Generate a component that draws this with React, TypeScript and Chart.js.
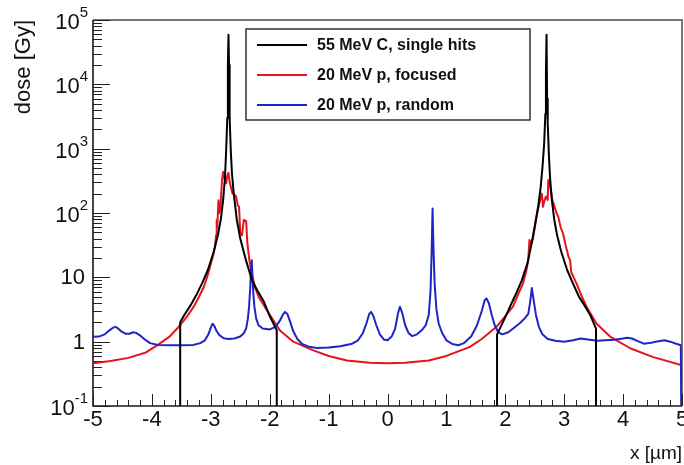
import React, { useEffect, useRef } from 'react';
import { Chart, registerables } from 'chart.js';

Chart.register(...registerables);

const X_MIN = -5;
const X_MAX = 5;
const Y_MIN = 0.1;
const Y_MAX = 100000;

const xTickValues = [-5, -4, -3, -2, -1, 0, 1, 2, 3, 4, 5];
const xTickLabels = ['-5', '-4', '-3', '-2', '-1', '0', '1', '2', '3', '4', '5'];
const yTickValues = [0.1, 1, 10, 100, 1000, 10000, 100000];
const yTickBase = ['10', '1', '10', '10', '10', '10', '10'];
const yTickExp = ['-1', '', '', '2', '3', '4', '5'];

const seriesLabels = ['55 MeV C, single hits', '20 MeV p, focused', '20 MeV p, random'];
const seriesColors = ['#000000', '#e3141b', '#1f24c4'];
const xTitle = 'x [\u00b5m]';
const yTitle = 'dose [Gy]';

// 55 MeV C, single hits (null = break between the two hit regions)
const carbonX = [
  -3.52, -3.52, -3.45, -3.35, -3.25, -3.15, -3.05, -2.95, -2.88, -2.83, -2.79, -2.76, -2.74, -2.72, -2.71, -2.70,
  -2.69, -2.68, -2.66, -2.64, -2.61, -2.56, -2.50, -2.40, -2.30, -2.20, -2.10, -2.00, -1.88, -1.88,
  0,
  1.86, 1.86, 1.98, 2.08, 2.18, 2.28, 2.38, 2.45, 2.51, 2.56, 2.60, 2.63, 2.66, 2.68, 2.69, 2.70,
  2.71, 2.72, 2.74, 2.76, 2.79, 2.83, 2.88, 2.95, 3.05, 3.15, 3.25, 3.35, 3.45, 3.54, 3.54,
];
const carbonY = [
  0.001, 2.0, 2.6, 3.6, 5.2, 8, 13, 25, 45, 80, 160, 350, 900, 3000, 20000, 59000,
  20000, 3000, 900, 400, 200, 80, 40, 18, 9, 6, 4.2, 2.5, 1.5, 0.001,
  null,
  0.001, 1.3, 2.2, 3.5, 5.5, 9, 17, 35, 70, 130, 250, 500, 1200, 3500, 15000, 59000,
  6000, 2500, 800, 350, 160, 80, 45, 25, 13, 8, 5, 3.6, 2.5, 1.6, 0.001,
];

// 20 MeV p, focused
const focusedX = [
  -5.0, -4.7, -4.4, -4.1, -3.9, -3.7, -3.52, -3.4, -3.29, -3.2, -3.12, -3.05, -3.01, -2.96, -2.93, -2.91,
  -2.90, -2.89, -2.87, -2.855, -2.84, -2.81, -2.79, -2.77, -2.74, -2.72, -2.70, -2.68, -2.66, -2.63, -2.59,
  -2.57, -2.54, -2.52, -2.50, -2.47, -2.44, -2.40, -2.38, -2.35, -2.31, -2.25, -2.18, -2.05, -1.9, -1.83,
  -1.6, -1.27, -1.0, -0.69, -0.3, 0.0, 0.3, 0.7, 1.0, 1.4, 1.6, 1.85, 2.0, 2.13, 2.22, 2.30, 2.36, 2.39,
  2.41, 2.44, 2.47, 2.50, 2.53, 2.56, 2.59, 2.62, 2.64, 2.66, 2.69, 2.72, 2.73, 2.75, 2.77, 2.80, 2.83,
  2.87, 2.90, 2.94, 2.98, 3.03, 3.08, 3.10, 3.12, 3.21, 3.3, 3.38, 3.55, 3.78, 4.12, 4.5, 5.0,
];
const focusedY = [
  0.46, 0.5, 0.56, 0.68, 0.89, 1.2, 1.8, 2.5, 3.5, 5, 7, 11, 15, 22, 30, 45,
  78, 60, 158, 100, 110, 320, 436, 350, 290, 380, 420, 300, 255, 200, 190,
  180, 130, 125, 48, 45, 78, 75, 35, 20, 12, 7, 4.8, 3.1, 1.9, 1.5,
  1.0, 0.74, 0.6, 0.51, 0.47, 0.46, 0.47, 0.51, 0.6, 0.83, 1.1, 1.7, 2.5, 3.5, 5.5, 8, 13, 19,
  38, 33, 40, 60, 87, 120, 158, 200, 125, 150, 180, 160, 325, 300, 230, 158, 130,
  100, 87, 60, 48, 30, 20, 18.6, 12, 8, 5, 3.5, 1.9, 1.2, 0.79, 0.58, 0.43,
];

// 20 MeV p, random
const randomX = [
  -5.0, -4.9, -4.8, -4.72, -4.66, -4.62, -4.58, -4.52, -4.45, -4.38, -4.32, -4.27, -4.2, -4.12, -4.03,
  -3.9, -3.7, -3.52, -3.3, -3.18, -3.1, -3.04, -3.0, -2.97, -2.94, -2.9, -2.85, -2.78, -2.7, -2.6,
  -2.5, -2.44, -2.4, -2.37, -2.35, -2.33, -2.315, -2.305, -2.295, -2.28, -2.26, -2.23, -2.19, -2.12, -2.0,
  -1.9, -1.83, -1.78, -1.74, -1.7, -1.65, -1.6, -1.53, -1.45, -1.35, -1.2, -1.0, -0.8, -0.6, -0.5,
  -0.42, -0.36, -0.31, -0.28, -0.24, -0.19, -0.13, -0.06, 0.0, 0.07, 0.13, 0.18, 0.21, 0.25, 0.30,
  0.36, 0.42, 0.5, 0.58, 0.65, 0.7, 0.73, 0.75, 0.765, 0.78, 0.8, 0.83, 0.87, 0.93, 1.0,
  1.1, 1.2, 1.3, 1.42, 1.52, 1.6, 1.65, 1.68, 1.72, 1.77, 1.82, 1.88, 1.95, 2.05, 2.15,
  2.25, 2.33, 2.39, 2.42, 2.45, 2.48, 2.52, 2.57, 2.63, 2.72, 2.85, 3.0, 3.15, 3.28, 3.4,
  3.56, 3.7, 3.85, 4.0, 4.07, 4.15, 4.25, 4.35, 4.45, 4.55, 4.7, 4.8, 4.9, 4.98, 5.0,
];
const randomY = [
  1.19, 1.2, 1.3, 1.5, 1.65, 1.7, 1.62, 1.45, 1.33, 1.33, 1.4, 1.37, 1.25, 1.08, 0.95,
  0.89, 0.88, 0.88, 0.89, 0.95, 1.05, 1.3, 1.65, 1.9, 1.75, 1.45, 1.25, 1.13, 1.1, 1.12,
  1.2, 1.35, 1.6, 2.3, 3.5, 7, 14, 18.5, 12, 6, 3.5, 2.3, 1.8, 1.6, 1.55,
  1.7, 2.1, 2.6, 2.9, 2.7, 2.0, 1.45, 1.1, 0.92, 0.84, 0.8, 0.81, 0.85, 0.93, 1.05,
  1.35, 1.9, 2.7, 2.9, 2.5, 1.8, 1.3, 1.08, 1.05, 1.2, 1.6, 2.8, 3.5, 2.8, 1.8,
  1.35, 1.22, 1.3, 1.5, 1.8, 2.6, 6, 25, 117, 30, 8, 3.2, 1.9, 1.35, 1.05,
  0.92, 0.88, 0.95, 1.2, 1.8, 3, 4.4, 4.7, 4.0, 2.6, 1.8, 1.4, 1.3, 1.4, 1.65,
  1.95, 2.3, 2.7, 4, 6.8, 4.5, 2.6, 1.7, 1.3, 1.1, 1.03, 1.0, 1.05, 1.12, 1.08,
  1.03, 1.05, 1.07, 1.12, 1.15, 1.12, 1.02, 0.93, 0.95, 1.0, 1.05, 1.0, 0.93, 0.88, 0.001,
];

const FONT = '"Liberation Sans", Arial, Helvetica, sans-serif';

function toPoints(xs: number[], ys: (number | null)[]) {
  return xs.map((x, i) => ({ x, y: ys[i] }));
}

const decorPlugin = {
  id: 'rootDecor',
  beforeDatasetsDraw(chart: any) {
    const { ctx, chartArea: a, scales } = chart;
    const xs = scales.x;
    const ys = scales.y;
    ctx.save();
    // frame
    ctx.strokeStyle = '#777';
    ctx.lineWidth = 2;
    ctx.beginPath();
    ctx.moveTo(a.left, a.top);
    ctx.lineTo(a.right, a.top);
    ctx.lineTo(a.right, a.bottom);
    ctx.stroke();
    ctx.strokeStyle = '#1a1a1a';
    ctx.lineWidth = 1.6;
    ctx.beginPath();
    ctx.moveTo(a.left, a.top);
    ctx.lineTo(a.left, a.bottom);
    ctx.lineTo(a.right, a.bottom);
    ctx.stroke();
    // ticks, drawn inside the frame
    ctx.lineWidth = 1;
    ctx.strokeStyle = '#222';
    ctx.beginPath();
    const nMinor = 5;
    for (let i = 0; i < xTickValues.length; i++) {
      const v = xTickValues[i];
      const px = Math.round(xs.getPixelForValue(v)) + 0.5;
      ctx.moveTo(px, a.bottom);
      ctx.lineTo(px, a.bottom - 12);
      if (i < xTickValues.length - 1) {
        const step = (xTickValues[i + 1] - v) / nMinor;
        for (let k = 1; k < nMinor; k++) {
          const mx = Math.round(xs.getPixelForValue(v + k * step)) + 0.5;
          ctx.moveTo(mx, a.bottom);
          ctx.lineTo(mx, a.bottom - 6);
        }
      }
    }
    for (let i = 0; i < yTickValues.length; i++) {
      const v = yTickValues[i];
      const py = Math.round(ys.getPixelForValue(v)) + 0.5;
      ctx.moveTo(a.left, py);
      ctx.lineTo(a.left + 17, py);
      if (i < yTickValues.length - 1) {
        for (let m = 2; m < 10; m++) {
          const my = Math.round(ys.getPixelForValue(v * m)) + 0.5;
          ctx.moveTo(a.left, my);
          ctx.lineTo(a.left + 9, my);
        }
      }
    }
    ctx.stroke();
    ctx.restore();
  },
  afterDraw(chart: any) {
    const { ctx, chartArea: a, scales } = chart;
    const ys = scales.y;
    ctx.save();
    ctx.fillStyle = '#111';
    ctx.textBaseline = 'middle';
    ctx.textAlign = 'right';
    const right = a.left - 5;
    for (let i = 0; i < yTickValues.length; i++) {
      const py = ys.getPixelForValue(yTickValues[i]);
      const exp = yTickExp[i];
      if (exp) {
        ctx.font = '15px ' + FONT;
        ctx.fillText(exp, right, py - 7);
        const w = ctx.measureText(exp).width;
        ctx.font = '22px ' + FONT;
        ctx.fillText(yTickBase[i], right - w, py + 3);
      } else {
        ctx.font = '22px ' + FONT;
        ctx.fillText(yTickBase[i], right - 3, py + 1);
      }
    }
    // legend
    const lx = a.left + 153;
    const ly = a.top + 9;
    const lw = 284;
    const lh = 91;
    ctx.fillStyle = '#fff';
    ctx.fillRect(lx, ly, lw, lh);
    ctx.strokeStyle = '#333';
    ctx.lineWidth = 1.5;
    ctx.strokeRect(lx, ly, lw, lh);
    ctx.font = 'bold 16px ' + FONT;
    ctx.textAlign = 'left';
    for (let i = 0; i < seriesLabels.length; i++) {
      const rowY = ly + 16 + i * 30;
      ctx.strokeStyle = seriesColors[i];
      ctx.lineWidth = 2;
      ctx.beginPath();
      ctx.moveTo(lx + 11, rowY);
      ctx.lineTo(lx + 61, rowY);
      ctx.stroke();
      ctx.fillStyle = '#111';
      ctx.fillText(seriesLabels[i], lx + 71, rowY + 1);
    }
    ctx.restore();
  },
};

export default function App() {
  const ref = useRef<HTMLCanvasElement | null>(null);
  useEffect(() => {
    if (!ref.current) return;
    const ds = (label: string, color: string, data: any[]) => ({
      label,
      data,
      borderColor: color,
      backgroundColor: color,
      borderWidth: 2,
      pointRadius: 0,
      tension: 0,
      spanGaps: false,
      borderJoinStyle: 'round' as const,
      fill: false,
    });
    const chart = new Chart(ref.current, {
      type: 'line',
      data: {
        datasets: [
          ds(seriesLabels[0], seriesColors[0], toPoints(carbonX, carbonY)),
          ds(seriesLabels[2], seriesColors[2], toPoints(randomX, randomY)),
          ds(seriesLabels[1], seriesColors[1], toPoints(focusedX, focusedY)),
        ],
      },
      options: {
        animation: false,
        responsive: false,
        maintainAspectRatio: false,
        layout: { padding: { left: 0, right: 2, top: 20, bottom: 0 } },
        plugins: { legend: { display: false }, tooltip: { enabled: false } },
        scales: {
          x: {
            type: 'linear',
            min: X_MIN,
            max: X_MAX,
            afterBuildTicks: (s: any) => {
              s.ticks = xTickValues.map((v) => ({ value: v }));
            },
            ticks: {
              autoSkip: false,
              maxRotation: 0,
              padding: 1,
              color: '#111',
              font: { size: 22, family: FONT },
              callback: (_v: any, i: number) => xTickLabels[i],
            },
            grid: { display: false, drawTicks: false },
            border: { display: false },
            title: {
              display: true,
              text: xTitle,
              align: 'end',
              color: '#111',
              font: { size: 19, family: FONT },
              padding: { top: 0, bottom: 0 },
            },
            afterFit: (s: any) => {
              s.height = 59;
              s.paddingLeft = 0;
              s.paddingRight = 0;
            },
          },
          y: {
            type: 'logarithmic',
            min: Y_MIN,
            max: Y_MAX,
            ticks: { display: false },
            grid: { display: false, drawTicks: false },
            border: { display: false },
            title: {
              display: true,
              text: yTitle,
              align: 'end',
              color: '#111',
              font: { size: 22, family: FONT },
              padding: { top: 11, bottom: 0 },
            },
            afterFit: (s: any) => {
              s.width = 93;
              s.paddingTop = 0;
              s.paddingBottom = 0;
            },
          },
        },
      },
      plugins: [decorPlugin],
    });
    return () => chart.destroy();
  }, []);
  return (
    <div style={{ position: 'fixed', left: 0, top: 0, width: 684, height: 465, background: '#fff' }}>
      <canvas ref={ref} width={684} height={465} style={{ width: 684, height: 465, display: 'block' }} />
    </div>
  );
}
